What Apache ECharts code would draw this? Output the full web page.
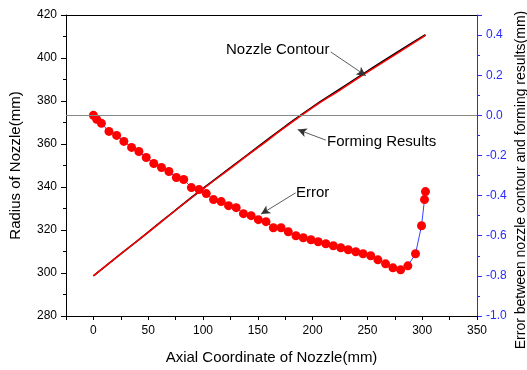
<!DOCTYPE html>
<html>
<head>
<meta charset="utf-8">
<script src="https://cdn.jsdelivr.net/npm/echarts@6/dist/echarts.min.js"></script>
<style>
  html, body { margin: 0; padding: 0; background: #fff; }
  #main { width: 527px; height: 370px; }
</style>
</head>
<body>
<div id="main"></div>
<script>
"use strict";

// nozzle profile, radius (mm) vs axial coordinate (mm)
const profileX = [0, 25, 50, 75, 100, 125, 150, 175, 200, 225, 250, 275, 303];
const contourR = [298.7, 308.9, 319.0, 329.3, 339.3, 349.0, 358.6, 368.2, 377.3, 385.6, 393.9, 402.0, 410.8];
const formingR = [298.7, 308.9, 318.9, 329.2, 339.1, 348.7, 358.3, 367.8, 376.9, 385.1, 393.4, 401.5, 410.5];

// error between contour and forming results (mm)
const errorX = [0, 3.0, 7.3, 14.2, 21.2, 27.8, 34.8, 41.5, 48.2, 55.1, 62.1, 68.9, 75.7, 82.4, 89.4, 96.4,
  103.0, 109.6, 116.6, 123.3, 130.3, 136.9, 143.9, 150.5, 157.5, 164.2, 171.2, 177.8, 184.8, 191.5,
  198.5, 205.1, 212.1, 218.9, 225.7, 232.5, 239.4, 246.0, 253.0, 259.6, 266.6, 273.3, 280.3, 286.9,
  293.9, 299.4, 302.1, 303.0];
const errorVal = [0.00, -0.02, -0.04, -0.08, -0.10, -0.13, -0.16, -0.18, -0.21, -0.24, -0.26, -0.28, -0.31, -0.32, -0.36, -0.37,
  -0.39, -0.42, -0.43, -0.45, -0.46, -0.49, -0.50, -0.52, -0.53, -0.56, -0.56, -0.58, -0.60, -0.61,
  -0.62, -0.63, -0.64, -0.65, -0.66, -0.67, -0.68, -0.69, -0.70, -0.72, -0.74, -0.76, -0.77, -0.75,
  -0.69, -0.55, -0.42, -0.38];

const font = 'Liberation Sans, Arial, sans-serif';
const blue = '#2a2aff';

let myChart = echarts.init(document.getElementById('main'));

function arrow(a, b) {
  return [{ coord: a }, { coord: b }];
}

let option = {
  animation: false,
  backgroundColor: '#fff',
  textStyle: { fontFamily: font },
  grid: { left: 64, right: 50, top: 15, bottom: 50 },
  xAxis: [
    {
      type: 'value',
      min: -25,
      max: 350,
      interval: 25,
      name: 'Axial Coordinate of Nozzle(mm)',
      nameLocation: 'middle',
      nameGap: 34,
      nameTextStyle: { fontSize: 15, color: '#000', fontFamily: font },
      axisLine: { onZero: false, lineStyle: { color: '#000', width: 1 } },
      axisTick: { inside: false, length: 4, lineStyle: { color: '#000' } },
      axisLabel: {
        color: '#000', fontSize: 12, margin: 9, fontFamily: font,
        formatter: v => (v % 50 === 0 ? String(v) : '')
      },
      splitLine: { show: false }
    },
    {
      type: 'value',
      position: 'top',
      min: -25,
      max: 350,
      axisLine: { show: true, onZero: false, lineStyle: { color: '#000', width: 1 } },
      axisTick: { show: false },
      axisLabel: { show: false },
      splitLine: { show: false }
    }
  ],
  yAxis: [
    {
      type: 'value',
      min: 280,
      max: 420,
      interval: 20,
      name: 'Radius of Nozzle(mm)',
      nameLocation: 'middle',
      nameGap: 43,
      nameRotate: 90,
      nameTextStyle: { fontSize: 15, color: '#000', fontFamily: font },
      axisLine: { show: true, onZero: false, lineStyle: { color: '#000', width: 1 } },
      axisTick: { length: 5, lineStyle: { color: '#000' } },
      minorTick: { show: true, splitNumber: 2, length: 3, lineStyle: { color: '#000' } },
      axisLabel: { color: '#000', fontSize: 12, margin: 9, fontFamily: font },
      splitLine: { show: false }
    },
    {
      type: 'value',
      position: 'right',
      min: -1.0,
      max: 0.5,
      interval: 0.2,
      axisLine: { show: true, onZero: false, lineStyle: { color: blue, width: 1 } },
      axisTick: { length: 5, lineStyle: { color: blue } },
      minorTick: { show: true, splitNumber: 2, length: 3, lineStyle: { color: blue } },
      axisLabel: {
        color: blue, fontSize: 12, margin: 9, fontFamily: font, showMaxLabel: false,
        formatter: v => (v > 0.45 ? '' : v.toFixed(1))
      },
      splitLine: { show: false }
    }
  ],
  graphic: [
    { type: 'text', left: 226, top: 42, style: { text: 'Nozzle Contour', font: '15px ' + font, fill: '#000' } },
    { type: 'text', left: 327, top: 134, style: { text: 'Forming Results', font: '15px ' + font, fill: '#000' } },
    { type: 'text', left: 296, top: 185, style: { text: 'Error', font: '15px ' + font, fill: '#000' } },
    {
      type: 'text', x: 521, y: 180, rotation: Math.PI / 2,
      style: {
        text: 'Error between nozzle contour and forming results(mm)',
        font: '14px ' + font, fill: '#000', align: 'center', verticalAlign: 'middle'
      }
    }
  ],
  series: [
    {
      name: 'Nozzle Contour',
      type: 'line',
      xAxisIndex: 0,
      yAxisIndex: 0,
      data: profileX.map((x, i) => [x, contourR[i]]),
      showSymbol: false,
      smooth: true,
      lineStyle: { color: '#000', width: 1.6 },
      z: 2,
      markLine: {
        silent: true,
        symbol: ['none', 'arrow'],
        symbolSize: [7, 9],
        label: { show: false },
        lineStyle: { color: '#333', width: 0.8, type: 'solid' },
        data: [
          arrow([216.6, 402.8], [248.5, 391.8]),
          arrow([212.1, 361.8], [186.4, 366.7]),
          arrow([184.5, 337.3], [153.0, 327.4])
        ]
      }
    },
    {
      name: 'Forming Results',
      type: 'line',
      xAxisIndex: 0,
      yAxisIndex: 0,
      data: profileX.map((x, i) => [x, formingR[i]]),
      showSymbol: false,
      smooth: true,
      lineStyle: { color: '#ff0000', width: 1.5 },
      z: 3
    },
    {
      name: 'Error',
      type: 'line',
      xAxisIndex: 0,
      yAxisIndex: 1,
      data: errorX.map((x, i) => [x, errorVal[i]]),
      symbol: 'circle',
      symbolSize: 9,
      showSymbol: true,
      lineStyle: { color: '#3344ff', width: 1 },
      itemStyle: { color: '#ff0000', borderWidth: 0 },
      z: 4,
      markLine: {
        silent: true,
        symbol: 'none',
        label: { show: false },
        lineStyle: { color: '#888', width: 1, type: 'solid' },
        data: [{ yAxis: 0 }]
      }
    }
  ]
};

myChart.setOption(option);
</script>
</body>
</html>
